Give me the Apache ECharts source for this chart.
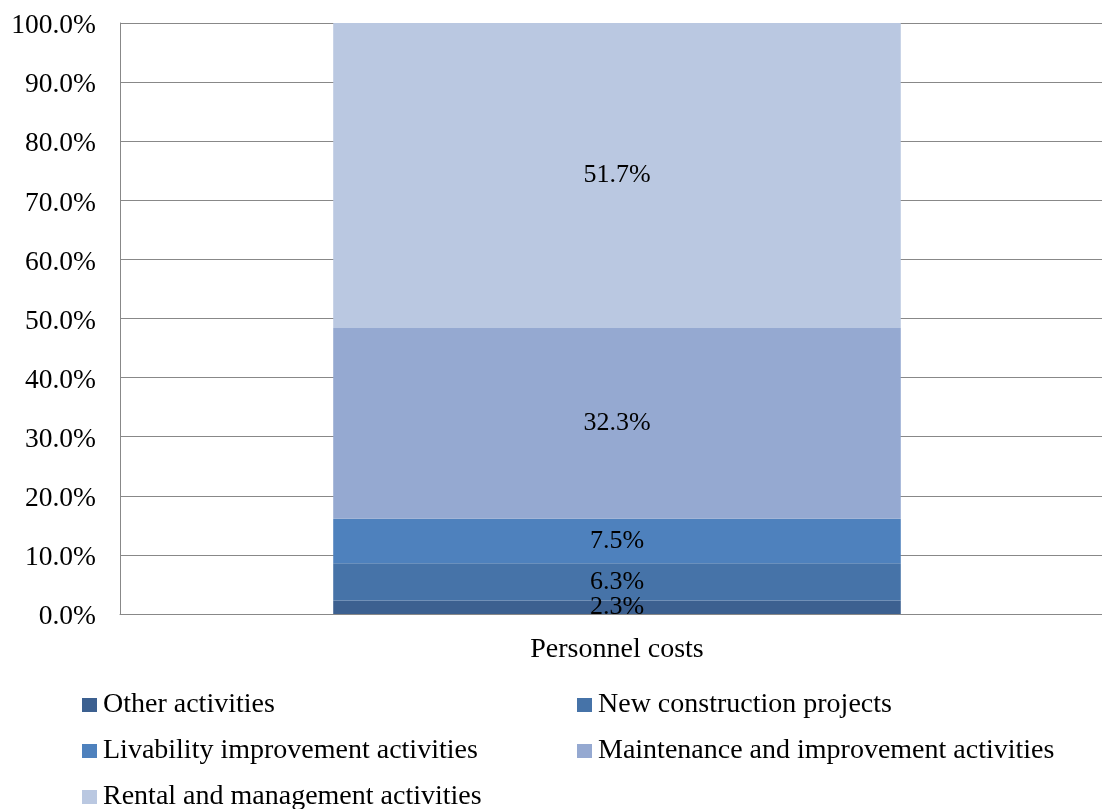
<!DOCTYPE html>
<html>
<head>
<meta charset="utf-8">
<script src="https://cdn.jsdelivr.net/npm/echarts@6/dist/echarts.min.js"></script>
<style>html,body{margin:0;padding:0;background:#fff;overflow:hidden}#c{width:1102px;height:809px}</style>
</head>
<body>
<div id="c"></div>
<script>
const categories = ['Personnel costs'];
const seriesNames = ['Other activities','New construction projects','Livability improvement activities','Maintenance and improvement activities','Rental and management activities'];
const otherActivities = [2.3];
const newConstruction = [6.3];
const livability = [7.5];
const maintenance = [32.3];
const rental = [51.7];
const yTicks = [0,10,20,30,40,50,60,70,80,90,100];

const values = [otherActivities, newConstruction, livability, maintenance, rental];
const colors = ['#3c6090','#4673a8','#4e81bd','#95a9d1','#bac8e1'];
const FONT = 'Liberation Serif';

const chart = echarts.init(document.getElementById('c'), null, {renderer:'canvas'});
const legendPos = [
  {left: 82, top: 691},
  {left: 577, top: 691},
  {left: 82, top: 737},
  {left: 577, top: 737},
  {left: 82, top: 783}
];
chart.setOption({
  animation: false,
  grid: {left: 120, width: 994, top: 23, bottom: 195, containLabel: false, outerBoundsMode: 'none'},
  legend: seriesNames.map((n,i)=>({
    data:[n], left: legendPos[i].left, top: legendPos[i].top, padding:0,
    icon:'rect', itemWidth:15, itemHeight:14, itemGap:6,
    textStyle:{fontFamily:FONT, fontSize:28, color:'#000', padding:[0,0,0,1]}
  })),
  xAxis: {
    type:'category', data: categories,
    axisLine:{show:true, lineStyle:{color:'#888', width:1}},
    axisTick:{show:false},
    axisLabel:{fontFamily:FONT, fontSize:28, color:'#000', margin:22}
  },
  yAxis: {
    type:'value', min:0, max:100, interval:10,
    axisLine:{show:true, lineStyle:{color:'#888', width:1}},
    axisTick:{show:false},
    splitLine:{show:true, lineStyle:{color:'#888', width:1}},
    axisLabel:{fontFamily:FONT, fontSize:27.5, color:'#000', margin:24, lineHeight:32, verticalAlign:'top',
      padding:[-13,0,0,0],
      formatter: v => v.toFixed(1)+'%'}
  },
  series: seriesNames.map((n,i)=>({
    name:n, type:'bar', stack:'total', data: values[i],
    barWidth:'57.1%',
    itemStyle:{color:colors[i]},
    label:{show:true, position:'inside', fontFamily:FONT, fontSize:26, color:'#000',
      formatter: p => p.value.toFixed(1)+'%'}
  }))
});
</script>
</body>
</html>
